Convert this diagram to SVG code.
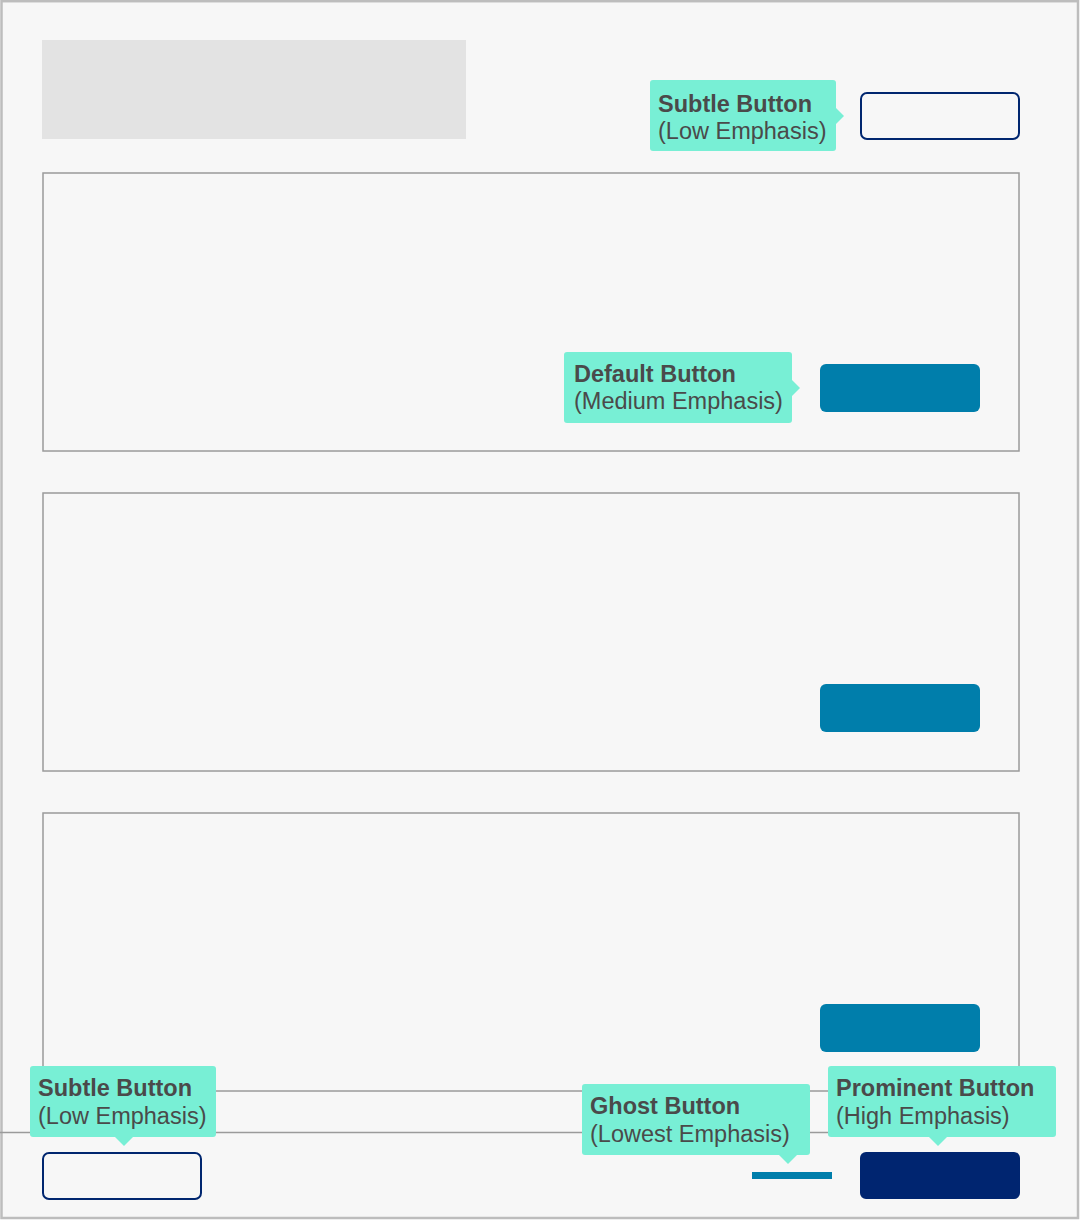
<svg xmlns="http://www.w3.org/2000/svg" width="1080" height="1220" viewBox="0 0 1080 1220">
<style>
.frame{fill:#f7f7f7;stroke:#bdbdbd;stroke-width:2.5}
.panel{fill:none;stroke:#9b9b9b;stroke-width:1.5}
.rule{stroke:#9b9b9b;stroke-width:1.5}
.ph{fill:#e3e3e3}
.subtle{fill:none;stroke:#00266f;stroke-width:2}
.default{fill:#007eab}
.prominent{fill:#002570}
.ghost{fill:#007eab}
.tip{fill:#78efd5}
.t1{font-family:"Liberation Sans",Arial,sans-serif;font-size:23.5px;font-weight:bold;fill:#4a4a4a}
.t2{font-family:"Liberation Sans",Arial,sans-serif;font-size:23.5px;fill:#4a4a4a}
</style>
<rect class="frame" x="1.5" y="1.2" width="1076.5" height="1216.8"/>
<g id="placeholder"><rect class="ph" x="42" y="40" width="424" height="99"/></g>
<g id="panels">
<rect class="panel" x="43" y="173" width="976" height="278"/>
<rect class="panel" x="43" y="493" width="976" height="278"/>
<rect class="panel" x="43" y="813" width="976" height="278"/>
<line class="rule" x1="0" y1="1132.5" x2="1000" y2="1132.5"/>
</g>
<g id="btn-subtle-top"><rect class="subtle" x="861" y="93" width="158" height="46" rx="6"/></g>
<g id="btn-default-1"><rect class="default" x="820" y="364" width="160" height="48" rx="6"/></g>
<g id="btn-default-2"><rect class="default" x="820" y="684" width="160" height="48" rx="6"/></g>
<g id="btn-default-3"><rect class="default" x="820" y="1004" width="160" height="48" rx="6"/></g>
<g id="btn-subtle-bottom"><rect class="subtle" x="43" y="1153" width="158" height="46" rx="6"/></g>
<g id="btn-ghost"><rect class="ghost" x="752" y="1172" width="80" height="7"/></g>
<g id="btn-prominent"><rect class="prominent" x="860" y="1152" width="160" height="47" rx="6"/></g>
<g id="connectors">
<polygon class="tip" points="835,107 844,116 835,125"/>
<polygon class="tip" points="791,379 800,388 791,397"/>
<polygon class="tip" points="115,1137 124,1146 133,1137"/>
<polygon class="tip" points="779,1155 788,1164 797,1155"/>
<polygon class="tip" points="929,1137 938,1146 947,1137"/>
</g>
<g id="callout-subtle-top">
<rect class="tip" x="650" y="80" width="186" height="71" rx="3"/>
<text class="t1" x="658" y="112">Subtle Button</text>
<text class="t2" x="658" y="139">(Low Emphasis)</text>
</g>
<g id="callout-default">
<rect class="tip" x="564" y="352" width="228" height="71" rx="3"/>
<text class="t1" x="574" y="382">Default Button</text>
<text class="t2" x="574" y="409">(Medium Emphasis)</text>
</g>
<g id="callout-subtle-bottom">
<rect class="tip" x="30" y="1066" width="186" height="71" rx="3"/>
<text class="t1" x="38" y="1096">Subtle Button</text>
<text class="t2" x="38" y="1124">(Low Emphasis)</text>
</g>
<g id="callout-ghost">
<rect class="tip" x="582" y="1084" width="228" height="71" rx="3"/>
<text class="t1" x="590" y="1114">Ghost Button</text>
<text class="t2" x="590" y="1142">(Lowest Emphasis)</text>
</g>
<g id="callout-prominent">
<rect class="tip" x="828" y="1066" width="228" height="71" rx="3"/>
<text class="t1" x="836" y="1096">Prominent Button</text>
<text class="t2" x="836" y="1124">(High Emphasis)</text>
</g>
</svg>
